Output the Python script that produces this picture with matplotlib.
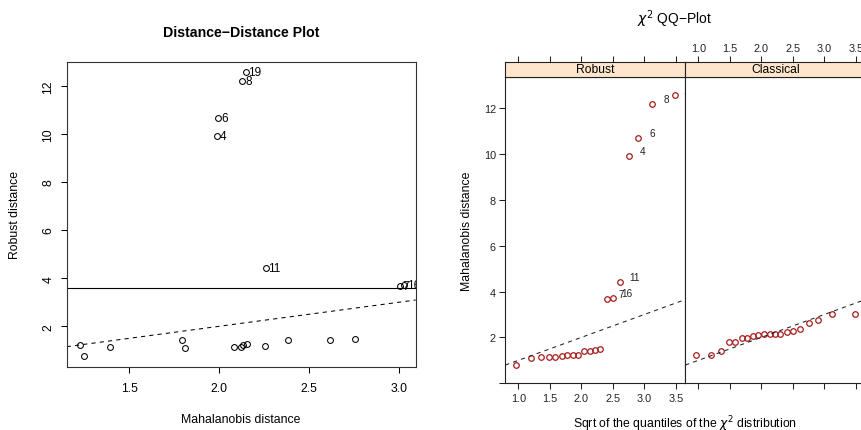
import numpy as np
import matplotlib
matplotlib.use('Agg')
import matplotlib.pyplot as plt

plt.rcParams['font.family'] = ['Liberation Sans', 'DejaVu Sans']
plt.rcParams['mathtext.fontset'] = 'dejavusans'

# ---------------- data ----------------
# Distance-distance plot: one entry per observation
obs_labels = ['', '', '', '', '', '', '', '', '', '', '', '', '',
              '11', '7', '16', '4', '6', '8', '19']
mahal_dist = [1.224, 1.246, 1.394, 1.795, 1.811, 2.081, 2.120, 2.134, 2.155, 2.256,
              2.381, 2.615, 2.755, 2.258, 3.005, 3.030, 1.990, 1.995, 2.129, 2.147]
robust_dist = [1.235, 0.780, 1.125, 1.420, 1.110, 1.150, 1.125, 1.220, 1.250, 1.200,
               1.440, 1.420, 1.490, 4.410, 3.670, 3.700, 9.920, 10.680, 12.180, 12.570]
cutoff = 3.58
# chi^2 QQ plot: sqrt of chi^2 quantiles
chi_quant = [0.963, 1.20, 1.36, 1.48, 1.59, 1.69, 1.77, 1.87, 1.95, 2.04,
             2.13, 2.21, 2.30, 2.40, 2.50, 2.61, 2.75, 2.90, 3.12, 3.48]
panel_names = ['Robust', 'Classical']
qq_xticks = [1.0, 1.5, 2.0, 2.5, 3.0, 3.5]
qq_xticklabels = ['1.0', '1.5', '2.0', '2.5', '3.0', '3.5']
qq_yticks = [0, 2, 4, 6, 8, 10, 12]
qq_yticklabels = ['', '2', '4', '6', '8', '10', '12']

W, H = 861, 431
fig = plt.figure(figsize=(W / 100, H / 100), dpi=100)


def fx(px):
    return px / W


def fy(py):
    return 1 - py / H


# ---------------- left: Distance-Distance plot ----------------
axL = fig.add_axes([fx(66.7), fy(367.7), (415.7 - 66.7) / W, (367.7 - 62.7) / H])
axL.set_xlim(1.152, 3.093)
axL.set_ylim(0.32, 13.0)
axL.plot(mahal_dist, robust_dist, 'o', mfc='none', mec='black', ms=4.2, mew=0.75)
axL.axhline(cutoff, color='black', lw=0.8)
axL.axline((1, 1), slope=1, color='black', lw=0.75, ls=(0, (4, 4)))
for x, y, lab in zip(mahal_dist, robust_dist, obs_labels):
    if lab:
        axL.annotate(lab, (x, y), xytext=(2.0, 0), textcoords='offset points',
                     ha='left', va='center', fontsize=8.5, clip_on=True,
                     annotation_clip=True)
axL.set_xticks([1.5, 2.0, 2.5, 3.0])
axL.set_xticklabels(['1.5', '2.0', '2.5', '3.0'])
axL.set_yticks([2, 4, 6, 8, 10, 12])
axL.set_yticklabels(['2', '4', '6', '8', '10', '12'], rotation=90, va='center')
axL.tick_params(direction='out', length=4.2, width=0.75, labelsize=8.8, pad=6.5)
axL.tick_params(axis='y', pad=4.5)
for s in axL.spines.values():
    s.set_linewidth(0.8)
    s.set_color('#333333')
fig.text(fx(241), fy(33), 'Distance\u2212Distance Plot', ha='center', va='center',
         fontsize=10.2, fontweight='bold')
fig.text(fx(241), fy(420), 'Mahalanobis distance', ha='center', va='center', fontsize=8.8)
fig.text(fx(15), fy(215), 'Robust distance', ha='center', va='center', fontsize=8.8,
         rotation=90)

# ---------------- right: chi^2 QQ plot (lattice style) ----------------
red = '#A81C1C'
pw = 180 / W
ph = (384.3 - 78) / H
xlim_qq = (0.794, 3.65)
robust_sorted_idx = np.argsort(robust_dist)
panels = {
    'Robust': (np.array(robust_dist)[robust_sorted_idx],
               [obs_labels[i] for i in robust_sorted_idx]),
    'Classical': (np.sort(mahal_dist), [''] * len(mahal_dist)),
}
for k, name in enumerate(panel_names):
    left = 505.3 + 180 * k
    ax = fig.add_axes([fx(left), fy(384.3), pw, ph])
    ax.set_xlim(*xlim_qq)
    ax.set_ylim(0.0, 13.35)
    yv, labs = panels[name]
    ax.plot(chi_quant, yv, 'o', mfc='none', mec=red, ms=4.0, mew=0.9)
    ax.axline((1, 1), slope=1, color='#222222', lw=0.75, ls=(0, (4, 4)))
    for x, y, lab in zip(chi_quant, yv, labs):
        if lab:
            ax.annotate(lab, (x, y), xytext=(10.4, 3.6), textcoords='offset points',
                        ha='center', va='center', fontsize=7.2, color='#222222',
                        clip_on=True, annotation_clip=True)
    ax.set_xticks(qq_xticks)
    ax.set_xticklabels(qq_xticklabels)
    ax.set_yticks(qq_yticks)
    if k == 0:
        ax.set_yticklabels(qq_yticklabels)
        ax.tick_params(axis='x', bottom=True, top=False, labelbottom=True, labeltop=False)
        ax.tick_params(axis='y', left=True, right=False, labelleft=True, labelright=False)
    else:
        ax.set_yticklabels([''] * len(qq_yticks))
        ax.tick_params(axis='x', bottom=True, top=False, labelbottom=False, labeltop=False)
        ax.tick_params(axis='y', left=False, right=True, labelleft=False, labelright=False)
    ax.tick_params(direction='out', length=4.2, width=0.75, labelsize=7.8, pad=2.5,
                   colors='#222222')
    for s in ax.spines.values():
        s.set_linewidth(0.8)
        s.set_color('#222222')
    # strip (carries the top axis ticks)
    st = fig.add_axes([fx(left), fy(78), pw, 15 / H])
    st.set_facecolor('#FFE5CC')
    st.set_xlim(*xlim_qq)
    st.set_xticks(qq_xticks)
    st.set_xticklabels(qq_xticklabels)
    st.set_yticks([])
    st.tick_params(axis='x', bottom=False, top=True, labelbottom=False,
                   labeltop=(k == 1), direction='out', length=4.2, width=0.75,
                   labelsize=7.8, pad=2.5, colors='#222222')
    for s in st.spines.values():
        s.set_linewidth(0.8)
        s.set_color('#222222')
    st.text(0.5, 0.5, name, transform=st.transAxes, ha='center', va='center',
            fontsize=8.7)

fig.text(fx(675), fy(19), '$\\chi^2$ QQ\u2212Plot', ha='center', va='center', fontsize=10)
fig.text(fx(685.3), fy(424), 'Sqrt of the quantiles of the $\\chi^2$ distribution',
         ha='center', va='center', fontsize=8.8)
fig.text(fx(467), fy(231), 'Mahalanobis distance', ha='center', va='center',
         fontsize=8.8, rotation=90)

fig.savefig('out.png', dpi=100)
